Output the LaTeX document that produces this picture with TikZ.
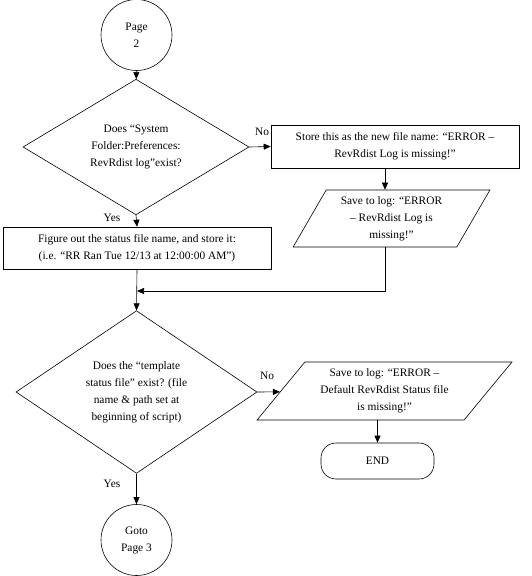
\documentclass[tikz,border=0pt]{standalone}
\usepackage{fontspec}
\setmainfont{Liberation Serif}
\usetikzlibrary{shapes.geometric,arrows.meta,positioning}
\tikzstyle{txt} = [font=\fontsize{11.4}{17}\selectfont, align=center]
\tikzstyle{conn} = [circle, draw, txt, minimum size=71pt, inner sep=0pt]
\tikzstyle{dec} = [diamond, draw, txt, inner sep=0pt]
\tikzstyle{proc} = [rectangle, draw, txt, inner sep=0pt]
\tikzstyle{io} = [trapezium, trapezium stretches=true, draw, txt, inner sep=0pt]
\tikzstyle{term} = [rectangle, rounded corners=15pt, draw, txt, minimum width=113pt, minimum height=36pt]
\tikzstyle{arr} = [-{Triangle[length=7pt,width=6pt]}]

\begin{document}
\begin{tikzpicture}[x=1pt, y=-1pt, line width=0.6pt]
\useasboundingbox (0,0) rectangle (531,576);
\node(P)[conn] at (136.5,35) {Page\\2};
\node(A)[dec, minimum width=226pt, minimum height=114pt] at (136,147)
    {Does “System\\Folder:Preferences:\\RevRdist log”exist?};
\node(B)[proc, minimum width=248pt, minimum height=43pt] at (395,146.5)
    {Store this as the new file name: “ERROR –\\RevRdist Log is missing!”};
\node(C)[io, trapezium left angle=60, trapezium right angle=120,
    minimum width=197pt, minimum height=57pt] at (391.5,218.5)
    {Save to log: “ERROR\\– RevRdist Log is\\missing!”};
\node(F)[proc, minimum width=268pt, minimum height=42pt] at (137,248)
    {Figure out the status file name, and store it:\\(i.e. “RR Ran Tue 12/13 at 12:00:00 AM”)};
\node(D)[dec, minimum width=241pt, minimum height=158pt] at (136.5,392)
    {Does the “template\\status file” exist? (file\\name \& path set at\\beginning of script)};
\node(S)[io, trapezium left angle=49, trapezium right angle=131,
    minimum width=255pt, minimum height=58pt] at (384.5,391)
    {Save to log: “ERROR –\\Default RevRdist Status file\\is missing!”};
\node(E)[term] at (377.5,461) {END};
\node(G)[conn] at (136.5,540) {Goto\\Page 3};
% labels
\node(N1)[txt] at (262,132) {No};
\node(Y1)[txt] at (112,218) {Yes};
\node(N2)[txt] at (267,376) {No};
\node(Y2)[txt] at (112,484) {Yes};
\coordinate(J) at (385,291);
\draw[arr](P)--(A);
\draw[arr](A.east)--(B.west);
\draw[arr](B.south -| J)--(C.north -| J);
\draw[arr](C.south -| J)--(J)--(J -| F.south);
\draw[arr](A.south)--(F.north);
\draw[arr](F.south)--(D.north);
\draw[arr](D.east)--(S);
\draw[arr](S.south -| E)--(E);
\draw[arr](D.south)--(G.north);
\end{tikzpicture}
\end{document}
